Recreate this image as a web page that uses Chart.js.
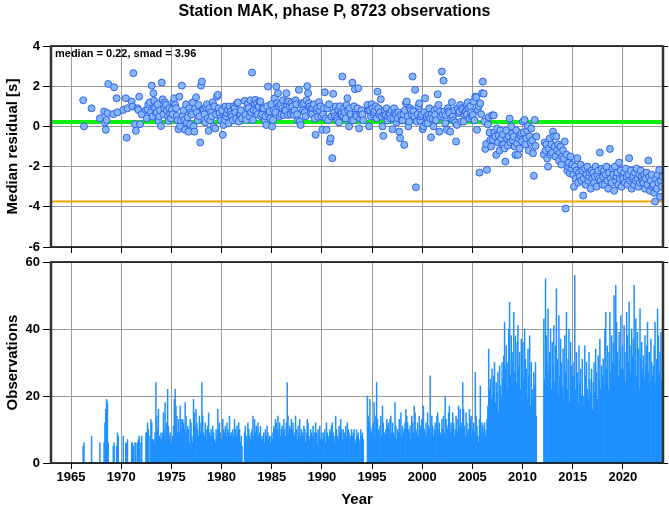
<!DOCTYPE html>
<html>
<head>
<meta charset="utf-8">
<script src="https://cdn.jsdelivr.net/npm/chart.js@4.4.1/dist/chart.umd.min.js"></script>
<style>
  body { margin: 0; background: #fff; }
  #wrap { position: relative; width: 669px; height: 511px; }
  canvas { position: absolute; left: 0; }
</style>
</head>
<body>
<div id="wrap">
  <canvas id="residChart" width="669" height="259" style="top:0"></canvas>
  <canvas id="obsChart" width="669" height="261" style="top:250px"></canvas>
</div>
<script>
const firstYear = 1966;
const xMin = 1963, xMax = 2024;
const yearTicks = [1965, 1970, 1975, 1980, 1985, 1990, 1995, 2000, 2005, 2010, 2015, 2020];
const median = 0.22;
const smad = 3.96;

// observations per month, one row per year from 1966
const obsCounts = [
  0,0,5,6,0,0,0,0,0,0,0,0,
  8,0,0,0,0,0,0,0,0,0,6,0,
  0,0,0,6,12,16,19,18,6,0,0,0,
  0,0,5,6,0,0,5,9,8,0,0,0,
  0,0,8,0,0,6,6,7,0,0,0,0,
  6,6,5,0,6,6,0,6,7,8,6,0,
  8,0,0,0,0,9,9,12,10,0,8,13,
  12,7,7,6,9,24,14,10,16,8,7,9,
  7,9,15,10,18,7,12,22,11,8,9,6,
  6,8,11,19,22,17,14,9,13,9,17,13,
  10,13,12,10,18,14,9,11,10,6,13,12,
  8,6,19,15,11,16,12,10,8,14,9,12,
  24,14,9,8,12,7,10,11,15,9,8,10,
  8,11,9,7,6,10,8,16,10,12,9,7,
  7,13,10,9,11,8,12,10,9,14,8,9,
  9,10,8,13,10,8,11,9,12,10,6,8,
  5,0,0,9,11,8,7,12,10,8,7,9,
  10,14,8,13,9,11,10,12,8,9,11,7,
  8,7,9,6,10,8,11,9,7,8,6,8,
  7,9,11,10,13,12,10,14,9,12,8,10,
  11,9,13,10,8,12,24,14,9,11,10,13,
  10,12,9,8,14,10,7,11,9,13,8,10,
  9,8,11,10,6,9,13,12,8,7,10,9,
  8,11,7,9,12,9,6,10,8,11,7,9,
  7,9,8,10,6,12,9,8,7,10,9,11,
  12,9,8,6,14,10,8,7,11,9,13,10,
  7,10,8,9,11,8,12,10,9,7,8,10,
  8,9,10,7,6,10,8,9,7,6,10,8,
  9,7,0,0,0,0,20,14,12,19,10,9,
  11,12,18,8,14,24,13,10,9,11,14,8,
  17,12,9,8,10,13,11,12,10,13,14,9,
  12,9,8,18,11,7,10,9,13,10,15,8,
  11,9,10,12,16,14,12,10,9,11,7,14,
  12,9,17,15,10,9,12,8,14,11,10,13,
  13,17,10,9,12,8,15,11,10,26,9,14,
  11,8,10,12,9,14,15,10,12,9,8,13,
  10,14,9,20,13,11,10,15,17,9,12,10,
  15,12,8,10,14,13,9,17,11,16,10,12,
  24,16,11,8,15,12,9,10,16,13,14,8,
  10,12,9,27,14,11,8,6,13,23,9,12,
  11,9,12,8,10,13,17,34,22,25,19,28,
  20,26,30,18,24,21,27,15,29,23,20,30,
  25,32,42,28,35,22,30,40,48,26,38,33,
  30,45,27,38,24,36,41,29,33,22,37,28,
  36,25,40,31,28,19,34,26,38,17,30,22,
  20,27,23,30,14,0,0,0,0,0,0,0,
  0,43,25,55,38,30,46,27,33,40,22,36,
  29,41,24,35,52,31,20,44,26,37,30,23,
  34,19,38,27,45,22,31,40,18,36,29,25,
  26,30,56,22,33,27,18,35,24,28,20,31,
  20,17,35,26,30,22,19,33,25,21,28,16,
  24,30,21,34,27,19,32,25,37,22,29,26,
  31,24,40,45,28,35,22,33,45,27,38,30,
  36,50,29,53,42,33,26,39,31,44,28,35,
  28,41,33,24,45,38,30,48,35,27,40,32,
  37,53,30,43,26,39,34,22,46,31,36,28,
  32,25,38,29,35,42,27,33,24,37,30,26,
  29,35,42,24,31,46,38,27,33,39,25,44
];

// monthly median residual [s], null where no value, same layout as obsCounts
const n = null;
const medianResid = [
  n,n,1.3,0.0,n,n,n,n,n,n,n,n,
  0.9,n,n,n,n,n,n,n,n,n,0.4,n,
  n,n,n,0.74,0.19,-0.17,0.32,0.66,2.11,n,n,n,
  n,n,0.61,1.95,n,n,1.4,0.7,n,n,n,n,
  n,n,0.82,n,n,1.4,-0.56,0.9,n,n,n,n,
  1.24,0.99,2.65,n,0.11,-0.22,n,0.9,0.82,1.48,0.11,n,
  0.6,n,n,n,n,0.82,0.4,0.85,1.1,n,1.2,0.7,
  2.03,0.5,1.65,1.27,0.9,0.66,0.7,1.1,0.27,0.5,0.8,0.02,
  2.18,1.35,0.6,0.9,1.19,1.07,0.8,0.5,0.27,0.9,0.6,0.4,
  0.82,0.6,1.2,1.4,1.07,0.9,0.52,0.3,-0.14,1.48,0.02,0.3,
  2.03,0.52,0.8,0.32,-0.17,1.1,0.19,0.45,-0.26,0.9,0.1,0.7,
  0.6,1.19,0.0,-0.26,0.9,1.45,0.69,0.3,1.07,0.5,-0.8,2.03,
  2.23,0.85,0.82,0.6,0.2,0.95,1.1,0.4,-0.22,0.9,0.3,0.7,
  0.5,1.2,0.0,1.0,-0.1,0.6,1.48,1.57,0.9,0.66,0.4,0.3,
  0.8,-0.42,0.07,0.32,0.99,0.5,0.66,0.82,0.15,0.99,0.73,0.6,
  0.5,0.3,1.0,0.9,0.7,0.4,1.15,1.19,0.24,0.6,0.6,0.8,
  0.4,n,n,1.27,0.57,0.32,0.9,1.15,0.9,0.5,1.3,0.7,
  2.68,0.32,0.8,1.15,1.32,0.74,1.15,0.6,0.99,1.24,1.24,0.5,
  0.6,0.9,0.9,0.3,0.5,0.07,1.0,1.98,0.6,0.74,0.4,1.1,
  0.0,0.32,0.8,1.4,0.7,1.98,1.15,1.65,0.99,0.5,1.07,0.6,
  0.9,1.3,0.57,0.8,0.8,1.65,1.24,0.57,1.24,0.99,0.6,1.15,
  0.99,0.7,0.57,0.8,1.3,1.1,0.6,0.3,1.82,0.24,0.07,1.15,
  1.07,0.8,1.15,0.7,0.5,1.3,2.0,1.65,1.15,0.99,0.66,0.9,
  0.6,0.9,1.1,0.4,-0.42,0.8,0.9,0.48,1.2,0.8,1.0,0.5,
  -0.17,0.6,0.9,1.7,0.4,-0.17,0.9,0.3,1.1,-0.76,-0.59,0.5,
  -1.58,1.62,0.7,0.5,0.99,0.4,0.3,0.82,0.2,1.0,0.7,0.6,
  2.48,0.5,0.9,0.7,0.4,1.07,1.4,0.8,0.0,0.9,0.6,0.3,
  2.18,0.3,1.0,1.85,0.6,0.5,0.9,1.9,-0.1,0.4,0.6,0.8,
  0.6,0.3,n,n,n,n,1.07,0.8,0.0,0.8,0.5,1.1,
  0.9,0.6,0.7,0.8,1.0,0.4,1.73,0.9,0.6,0.7,1.35,0.5,
  0.0,-0.47,0.57,0.8,0.57,0.9,0.3,0.5,0.66,0.6,0.4,0.8,
  -0.14,0.4,0.9,0.66,0.57,0.2,0.4,0.7,-0.26,-0.59,0.57,0.3,
  0.3,0.6,-0.92,0.8,1.15,1.24,0.5,0.0,0.24,0.9,0.8,0.6,
  2.48,0.74,0.5,1.82,-3.03,0.24,0.6,0.99,1.15,0.3,0.5,0.6,
  -0.14,0.0,0.7,1.4,0.16,0.5,0.16,0.57,0.9,0.4,-0.54,0.6,
  0.4,0.0,0.8,0.57,0.3,0.9,1.6,1.07,-0.26,0.74,0.5,2.73,
  0.6,2.28,0.74,0.16,0.57,-0.17,0.9,0.74,0.66,-0.26,0.4,1.2,
  0.5,0.3,0.8,0.2,-0.75,0.07,0.9,0.66,0.74,1.07,0.24,0.9,
  0.82,0.24,0.6,0.74,0.74,0.6,1.2,0.9,0.4,1.0,0.7,0.5,
  0.57,1.24,0.3,1.48,1.45,-0.17,0.82,1.0,-2.3,1.15,0.6,1.65,
  2.23,1.63,0.24,-1.12,-0.87,-2.16,0.1,0.46,-0.3,-0.67,-1.0,0.55,
  -0.67,0.55,-0.3,-0.5,-1.42,-0.1,-0.8,-0.45,-1.2,-0.2,-0.6,-0.9,
  -0.4,-0.9,-1.1,-1.75,-0.2,-0.6,-0.95,-0.5,0.39,-0.8,0.0,-0.35,
  -0.7,-0.5,-1.0,-1.42,-0.2,-0.85,-1.42,-0.6,-1.1,-0.45,-0.34,-0.75,
  0.24,-0.3,0.32,-0.9,-0.6,-0.2,0.02,-1.2,-0.5,-0.8,-0.1,-0.7,
  -1.34,-2.46,0.32,-0.97,-0.5,n,n,n,n,n,n,n,
  n,-1.39,-0.8,-1.2,-0.9,-1.6,-2.0,-1.1,-0.6,-1.4,-0.9,-1.3,
  -0.26,-0.5,-1.0,-1.5,-0.5,-1.2,-0.9,-1.7,-1.3,-1.0,-1.9,-1.5,
  -1.2,-1.6,-0.75,-4.09,-1.4,-2.2,-2.0,-1.8,-2.33,-1.5,-2.1,-1.9,
  -2.4,-3.0,-2.0,-2.6,-2.2,-1.58,-2.8,-2.3,-2.5,-1.9,-2.7,-2.2,
  -3.44,-2.6,-2.1,-2.9,-2.4,-2.0,-2.7,-2.5,-2.3,-3.1,-2.2,-2.6,
  -2.3,-2.8,-2.5,-2.0,-3.0,-2.4,-2.2,-2.6,-1.3,-2.7,-2.1,-2.9,
  -2.5,-2.2,-2.9,-2.4,-2.0,-2.7,-3.1,-2.3,-1.12,-2.6,-2.8,-2.1,
  -2.4,-3.2,-2.0,-2.7,-2.5,-2.3,-2.9,-1.8,-2.6,-2.2,-3.0,-2.5,
  -2.6,-2.3,-2.8,-2.1,-2.5,-2.9,-2.4,-1.58,-2.7,-2.2,-3.1,-2.6,
  -2.5,-2.9,-2.3,-2.7,-2.1,-2.6,-3.0,-2.4,-2.8,-2.2,-2.5,-2.7,
  -2.8,-2.4,-3.1,-2.6,-2.3,-2.9,-1.7,-2.5,-3.2,-2.7,-2.4,-3.0,
  -2.9,-3.3,-3.74,-2.6,-3.1,-2.4,-2.8,-2.16,-3.5,-2.7,-3.0,-2.5
];

const monthX = i => firstYear + (i + 0.5) / 12;
const residPoints = [];
medianResid.forEach((v, i) => { if (v !== null) residPoints.push({ x: monthX(i), y: v }); });
const obsBars = obsCounts.map((v, i) => ({ x: monthX(i), y: v }));

const font = "'Liberation Sans', Arial, Helvetica, sans-serif";
Chart.defaults.font.family = font;
Chart.defaults.color = '#000';
Chart.defaults.animation = false;

// black frame round the plot, thicker on the sides
const frame = {
  id: 'frame',
  afterDraw(chart) {
    const { ctx, chartArea: a } = chart;
    ctx.save();
    ctx.strokeStyle = '#000';
    ctx.lineWidth = 1.5;
    ctx.beginPath();
    ctx.moveTo(a.left, a.top); ctx.lineTo(a.right, a.top);
    ctx.moveTo(a.left, a.bottom); ctx.lineTo(a.right, a.bottom);
    ctx.stroke();
    ctx.strokeStyle = '#333';
    ctx.lineWidth = 2.5;
    ctx.beginPath();
    ctx.moveTo(a.left, a.top - 0.75); ctx.lineTo(a.left, a.bottom + 0.75);
    ctx.moveTo(a.right, a.top - 0.75); ctx.lineTo(a.right, a.bottom + 0.75);
    ctx.stroke();
    ctx.restore();
  }
};

const statsLabel = {
  id: 'statsLabel',
  afterDraw(chart) {
    const { ctx, chartArea: a } = chart;
    ctx.save();
    ctx.font = 'bold 11px ' + font;
    ctx.fillStyle = '#000';
    ctx.textBaseline = 'middle';
    ctx.fillText('median = ' + median.toFixed(2) + ', smad = ' + smad.toFixed(2), a.left + 4, a.top + 8);
    ctx.restore();
  }
};

const tickFont = { size: 13, weight: 'bold' };
const titleFont = { size: 15, weight: 'bold' };

function yearAxis(showLabels, height) {
  return {
    type: 'linear', min: xMin, max: xMax, offset: false,
    afterBuildTicks: s => { s.ticks = yearTicks.map(v => ({ value: v })); },
    afterFit: s => { s.height = height; },
    grid: { color: '#9a9a9a', tickColor: '#000', tickLength: 6, offset: false },
    border: { display: false },
    ticks: { display: showLabels, font: tickFont, padding: 1, maxRotation: 0, autoSkip: false,
             callback: v => String(v) },
    title: { display: showLabels, text: 'Year', font: titleFont, padding: { top: 0, bottom: 2 } }
  };
}

function leftAxis(min, max, step, label) {
  return {
    position: 'left', min, max,
    afterFit: s => { s.width = 51; },
    grid: { color: '#9a9a9a', tickColor: '#000', tickLength: 8 },
    border: { display: false },
    ticks: { stepSize: step, font: tickFont, padding: 3 },
    title: { display: true, text: label, font: titleFont, padding: { top: 4, bottom: 0 } }
  };
}

function rightAxis(min, max, step) {
  return {
    position: 'right', min, max,
    afterFit: s => { s.width = 6; },
    grid: { drawOnChartArea: false, tickColor: '#000', tickLength: 5 },
    border: { display: false },
    ticks: { stepSize: step, display: false }
  };
}

new Chart(document.getElementById('residChart'), {
  type: 'scatter',
  data: {
    datasets: [
      {
        data: residPoints,
        pointRadius: 3.5,
        pointBackgroundColor: '#86b6f6',
        pointBorderColor: '#2f62ee',
        pointBorderWidth: 1
      },
      {
        data: [{ x: xMin, y: median }, { x: xMax, y: median }],
        showLine: true, pointRadius: 0, borderColor: '#11ee11', borderWidth: 4
      },
      {
        data: [{ x: xMin, y: median - smad }, { x: xMax, y: median - smad }],
        showLine: true, pointRadius: 0, borderColor: '#ffa500', borderWidth: 2
      }
    ]
  },
  options: {
    responsive: false,
    devicePixelRatio: 1,
    layout: { padding: { left: 0, right: 0, top: 0, bottom: 0 } },
    plugins: {
      legend: { display: false },
      tooltip: { enabled: false },
      title: {
        display: true,
        text: 'Station MAK, phase P, 8723 observations',
        font: { size: 16, weight: 'bold' },
        padding: { top: 2, bottom: 24.8 }
      }
    },
    scales: {
      x: yearAxis(false, 12),
      y: leftAxis(-6, 4, 2, 'Median residual [s]'),
      yR: rightAxis(-6, 4, 2)
    }
  },
  plugins: [frame, statsLabel]
});

new Chart(document.getElementById('obsChart'), {
  type: 'bar',
  data: {
    datasets: [{
      data: obsBars,
      backgroundColor: '#1e90ff',
      borderWidth: 0,
      barPercentage: 1,
      categoryPercentage: 1
    }]
  },
  options: {
    responsive: false,
    devicePixelRatio: 1,
    layout: { padding: { left: 0, right: 0, top: 12, bottom: 0 } },
    plugins: { legend: { display: false }, tooltip: { enabled: false } },
    scales: {
      x: yearAxis(true, 48),
      y: leftAxis(0, 60, 20, 'Observations'),
      yR: rightAxis(0, 60, 20)
    }
  },
  plugins: [frame]
});
</script>
</body>
</html>
